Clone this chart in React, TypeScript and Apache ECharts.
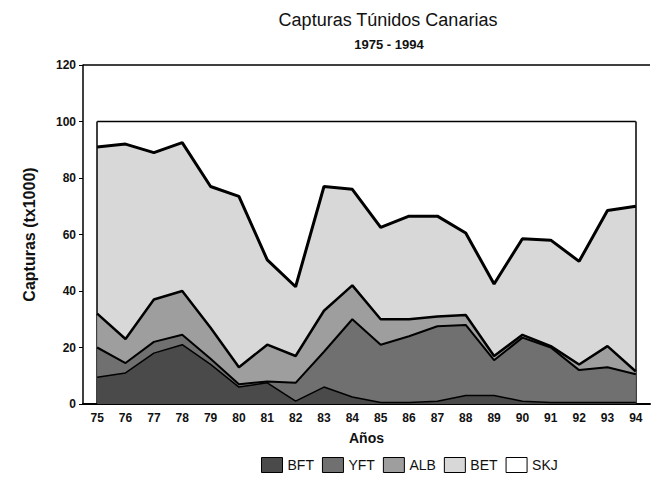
import React, { useEffect, useRef } from "react";
import * as echarts from "echarts";

const years = ["75", "76", "77", "78", "79", "80", "81", "82", "83", "84", "85", "86", "87", "88", "89", "90", "91", "92", "93", "94"];
const bft = [9.5, 11, 18, 21, 14, 6, 7.5, 1, 6, 2.5, 0.5, 0.5, 1, 3, 3, 1, 0.5, 0.5, 0.5, 0.5];
const yft = [10.5, 3.5, 4, 3.5, 2, 1, 0.5, 6.5, 12.5, 27.5, 20.5, 23.5, 26.5, 25, 12.5, 22.5, 19.5, 11.5, 12.5, 10];
const alb = [12, 8.5, 15, 15.5, 11, 6, 13, 9.5, 14.5, 12, 9, 6, 3.5, 3.5, 1.5, 1, 0.5, 2, 7.5, 1];
const bet = [59, 69, 52, 52.5, 50, 60.5, 30, 24.5, 44, 34, 32.5, 36.5, 35.5, 29, 25.5, 34, 37.5, 36.5, 48, 58.5];
const skj = [9, 8, 11, 7.5, 23, 26.5, 49, 58.5, 23, 24, 37.5, 33.5, 33.5, 39.5, 57.5, 41.5, 42, 49.5, 31.5, 30];

const FONT = "'Liberation Sans', Arial, Helvetica, sans-serif";

const layers = [
  { name: "BFT", data: bft, fill: "#4a4a4a", lw: 1.5, z: 7 },
  { name: "YFT", data: yft, fill: "#707070", lw: 2, z: 6 },
  { name: "ALB", data: alb, fill: "#9e9e9e", lw: 2.5, z: 5 },
  { name: "BET", data: bet, fill: "#d8d8d8", lw: 3, z: 4 },
  { name: "SKJ", data: skj, fill: "#ffffff", lw: 1.5, z: 3 },
];

export default function App() {
  const ref = useRef<HTMLDivElement>(null);
  useEffect(() => {
    document.body.style.margin = "0";
    if (!ref.current) return;
    const chart = echarts.init(ref.current, null, { renderer: "svg" });
    const series: any[] = layers.map((l, i) => {
      const s: any = {
        name: l.name,
        type: "line",
        stack: "total",
        data: l.data,
        symbol: "none",
        showSymbol: false,
        z: l.z,
        itemStyle: { color: l.fill, borderColor: "#000", borderWidth: 1 },
        lineStyle: { color: "#000", width: l.lw },
        areaStyle: { color: l.fill, opacity: 1 },
      };
      if (i === 0) {
        s.markLine = {
          silent: true,
          symbol: ["none", "none"],
          label: { show: false },
          lineStyle: { color: "#000", type: "solid", width: 1.5 },
          data: [
            { yAxis: 120 },
            [{ coord: [years[0], 0] }, { coord: [years[0], 100] }],
            [{ coord: [years[years.length - 1], 0] }, { coord: [years[years.length - 1], 100] }],
          ],
        };
      }
      return s;
    });
    chart.setOption({
      animation: false,
      backgroundColor: "#ffffff",
      textStyle: { fontFamily: FONT },
      graphic: [
        {
          type: "text",
          x: 388,
          y: 11,
          style: { text: "Capturas Túnidos Canarias", fontFamily: FONT, fontSize: 18, fill: "#111", textAlign: "center" },
        },
        {
          type: "text",
          x: 389,
          y: 38,
          style: { text: "1975 - 1994", fontFamily: FONT, fontSize: 13, fontWeight: "bold", fill: "#111", textAlign: "center" },
        },
      ],
      legend: {
        left: 256,
        top: 452,
        itemWidth: 21,
        itemHeight: 15,
        itemGap: 8,
        icon: "rect",
        itemStyle: { borderColor: "#000", borderWidth: 1 },
        textStyle: { fontFamily: FONT, fontSize: 14, color: "#111" },
        data: layers.map((l) => l.name),
      },
      grid: { left: 83, right: 13, top: 65, bottom: 79 },
      xAxis: {
        type: "category",
        data: years,
        boundaryGap: true,
        name: "Años",
        nameLocation: "middle",
        nameGap: 27,
        nameTextStyle: { fontFamily: FONT, fontSize: 14, fontWeight: "bold", color: "#111" },
        axisLine: { lineStyle: { color: "#000", width: 2 } },
        axisTick: { show: false },
        axisLabel: { fontFamily: FONT, fontSize: 12, fontWeight: "bold", color: "#111", margin: 8 },
      },
      yAxis: {
        type: "value",
        min: 0,
        max: 120,
        interval: 20,
        name: "Capturas (tx1000)",
        nameLocation: "middle",
        nameGap: 46,
        nameTextStyle: { fontFamily: FONT, fontSize: 16, fontWeight: "bold", color: "#111" },
        axisLine: { show: true, lineStyle: { color: "#000", width: 1.5 } },
        axisTick: { show: true, length: 4, lineStyle: { color: "#000" } },
        splitLine: { show: false },
        axisLabel: { fontFamily: FONT, fontSize: 12, fontWeight: "bold", color: "#111", margin: 7 },
      },
      series,
    });
    return () => chart.dispose();
  }, []);
  return <div ref={ref} style={{ width: 663, height: 483 }} />;
}
